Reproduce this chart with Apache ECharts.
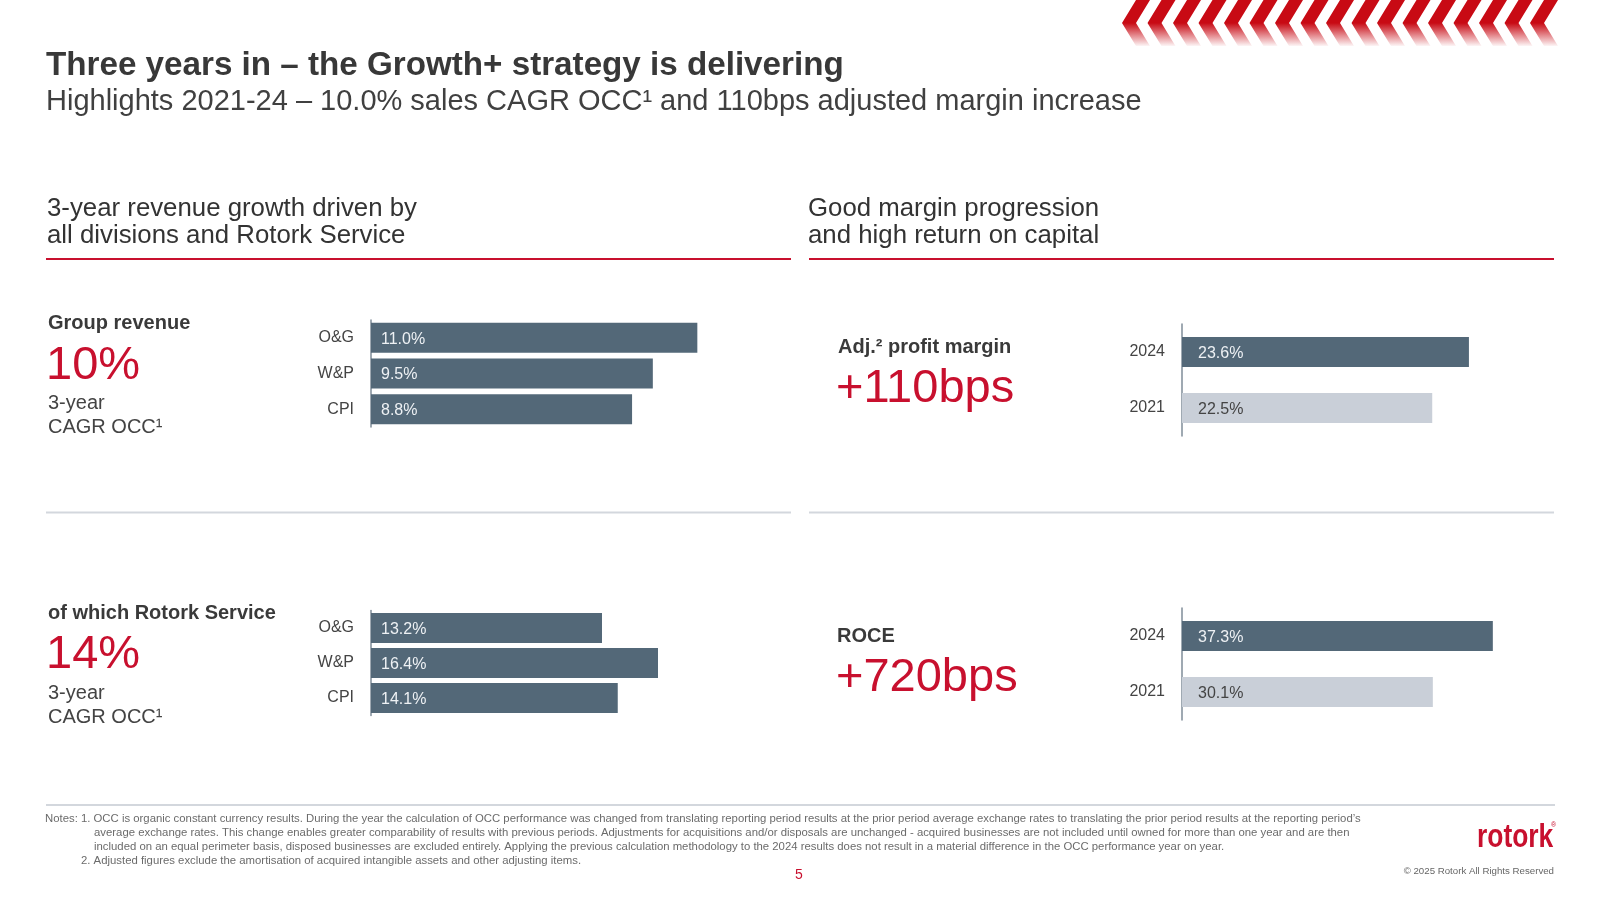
<!DOCTYPE html>
<html>
<head>
<meta charset="utf-8">
<script src="https://cdn.jsdelivr.net/npm/echarts@6/dist/echarts.min.js"></script>
<style>
html,body{margin:0;padding:0;background:#fff;}
#chart{width:1600px;height:900px;}
</style>
</head>
<body>
<div id="chart"></div>
<script>
// ---- data ----
const divisionCats = ['O&G', 'W&P', 'CPI'];
const groupRevenueGrowth = [11.0, 9.5, 8.8];
const serviceRevenueGrowth = [13.2, 16.4, 14.1];
const yearCats = ['2024', '2021'];
const profitMargin = [23.6, 22.5];
const roce = [37.3, 30.1];

// ---- styles ----
const FONT = "'Liberation Sans', Arial, Helvetica, sans-serif";
const RED = '#c8102e';
const DARK = '#536878';
const LIGHT = '#c9cfd8';
const TEXT = '#3a3a3a';
const AXIS = '#7f8c99';

const chart = echarts.init(document.getElementById('chart'), null, {renderer: 'canvas'});

function txt(x, y, text, size, opts) {
  opts = opts || {};
  const el = {
    type: 'text', z: 10,
    style: {
      x: x, y: y, text: text,
      fontSize: size, fontFamily: opts.family || FONT,
      fontWeight: opts.weight || 'normal',
      fill: opts.fill || TEXT,
      align: opts.align || 'left',
      verticalAlign: 'middle'
    }
  };
  if (opts.scaleX) {
    el.scaleX = opts.scaleX;
    el.originX = x;
    el.originY = y;
  }
  return el;
}
function hline(x1, x2, y, color, w) {
  return {type: 'line', z: 5, shape: {x1: x1, y1: y, x2: x2, y2: y}, style: {stroke: color, lineWidth: w}};
}

// decorative chevrons (top right)
const chevrons = [];
for (let i = 0; i < 17; i++) {
  const tx = 1122 + i * 25.5;
  chevrons.push({
    type: 'polygon', z: 5,
    shape: {points: [[tx + 14, 0], [tx + 28, 0], [tx + 14, 23], [tx + 28, 46], [tx + 14, 46], [tx, 23]]},
    style: {
      fill: new echarts.graphic.LinearGradient(0, 0, 0, 1, [
        {offset: 0, color: 'rgba(200,10,20,1)'},
        {offset: 0.5, color: 'rgba(200,10,20,1)'},
        {offset: 1, color: 'rgba(200,10,20,0.04)'}
      ], false)
    }
  });
}

const NOTE = '#6b6b6b';
const graphics = chevrons.concat([
  txt(46, 66, 'Three years in \u2013 the Growth+ strategy is delivering', 33.2, {weight: 'bold', fill: '#383838'}),
  txt(46, 102, 'Highlights 2021-24 \u2013 10.0% sales CAGR OCC\u00b9 and 110bps adjusted margin increase', 29, {fill: '#404040'}),

  txt(47, 209, '3-year revenue growth driven by', 25.8, {fill: '#333'}),
  txt(47, 236, 'all divisions and Rotork Service', 25.8, {fill: '#333'}),
  txt(808, 209, 'Good margin progression', 25.8, {fill: '#333'}),
  txt(808, 236, 'and high return on capital', 25.8, {fill: '#333'}),
  hline(46, 791, 259, RED, 2),
  hline(809, 1554, 259, RED, 2),
  hline(46, 791, 512.5, '#d3d7dd', 2),
  hline(809, 1554, 512.5, '#d3d7dd', 2),
  hline(46, 1555, 805, '#d3d7dd', 2),

  txt(48, 323, 'Group revenue', 20, {weight: 'bold', fill: '#3a3a3a'}),
  txt(46, 366, '10%', 47, {fill: RED}),
  txt(48, 403, '3-year', 20, {fill: '#444'}),
  txt(48, 427, 'CAGR OCC\u00b9', 20, {fill: '#444'}),

  txt(48, 613, 'of which Rotork Service', 20, {weight: 'bold', fill: '#3a3a3a'}),
  txt(46, 655, '14%', 47, {fill: RED}),
  txt(48, 693, '3-year', 20, {fill: '#444'}),
  txt(48, 717, 'CAGR OCC\u00b9', 20, {fill: '#444'}),

  txt(838, 347, 'Adj.\u00b2 profit margin', 20, {weight: 'bold', fill: '#3a3a3a'}),
  txt(836, 389, '+110bps', 47, {fill: RED}),
  txt(837, 636, 'ROCE', 20, {weight: 'bold', fill: '#3a3a3a'}),
  txt(836, 678, '+720bps', 47, {fill: RED}),

  txt(45, 818.5, "Notes: 1. OCC is organic constant currency results. During the year the calculation of OCC performance was changed from translating reporting period results at the prior period average exchange rates to translating the prior period results at the reporting period\u2019s", 11.35, {fill: NOTE}),
  txt(94, 833, 'average exchange rates. This change enables greater comparability of results with previous periods. Adjustments for acquisitions and/or disposals are unchanged - acquired businesses are not included until owned for more than one year and are then', 11.35, {fill: NOTE}),
  txt(94, 847, 'included on an equal perimeter basis, disposed businesses are excluded entirely. Applying the previous calculation methodology to the 2024 results does not result in a material difference in the OCC performance year on year.', 11.35, {fill: NOTE}),
  txt(81, 861, '2. Adjusted figures exclude the amortisation of acquired intangible assets and other adjusting items.', 11.35, {fill: NOTE}),

  txt(799, 875, '5', 14, {fill: RED, align: 'center'}),
  txt(1554, 871, '\u00a9 2025 Rotork All Rights Reserved', 9.7, {fill: '#666', align: 'right'}),
  txt(1477, 838, 'rotork', 33, {weight: 'bold', fill: RED, scaleX: 0.8}),
  txt(1551, 825, '\u00ae', 7, {fill: RED})
]);

function catAxis(idx, cats) {
  return {
    type: 'category', gridIndex: idx, data: cats, inverse: true,
    axisLine: {show: true, lineStyle: {color: AXIS, width: 1.5}},
    axisTick: {show: false},
    axisLabel: {fontSize: 16, color: '#444', fontFamily: FONT, margin: 17, verticalAlign: 'middle', padding: [5, 0, 0, 0]}
  };
}
function valAxis(idx, min, max) {
  return {type: 'value', gridIndex: idx, min: min, max: max, show: false, splitLine: {show: false}};
}
function barSeries(idx, values, colors, labelColors, dist) {
  return {
    type: 'bar', xAxisIndex: idx, yAxisIndex: idx, barWidth: 30,
    data: values.map(function (v, i) {
      return {
        value: v,
        itemStyle: {color: colors[i % colors.length]},
        label: {color: labelColors[i % labelColors.length]}
      };
    }),
    label: {
      show: true, position: 'insideLeft', distance: dist, offset: [0, 1.5],
      fontSize: 16, fontFamily: FONT,
      formatter: function (p) { return p.value.toFixed(1) + '%'; }
    },
    silent: true, animation: false
  };
}

const option = {
  backgroundColor: '#ffffff',
  animation: false,
  grid: [
    {left: 371, top: 320, width: 356, height: 107},
    {left: 371, top: 610.5, width: 350, height: 105},
    {left: 1182, top: 324, width: 367, height: 112},
    {left: 1182, top: 608, width: 375, height: 112}
  ],
  xAxis: [valAxis(0, 0, 12), valAxis(1, 0, 20), valAxis(2, 15, 26), valAxis(3, 0, 45)],
  yAxis: [catAxis(0, divisionCats), catAxis(1, divisionCats), catAxis(2, yearCats), catAxis(3, yearCats)],
  series: [
    barSeries(0, groupRevenueGrowth, [DARK], ['#eef1f4'], 10),
    barSeries(1, serviceRevenueGrowth, [DARK], ['#eef1f4'], 10),
    barSeries(2, profitMargin, [DARK, LIGHT], ['#eef1f4', '#444'], 16),
    barSeries(3, roce, [DARK, LIGHT], ['#eef1f4', '#444'], 16)
  ],
  graphic: graphics
};
chart.setOption(option);
</script>
</body>
</html>
